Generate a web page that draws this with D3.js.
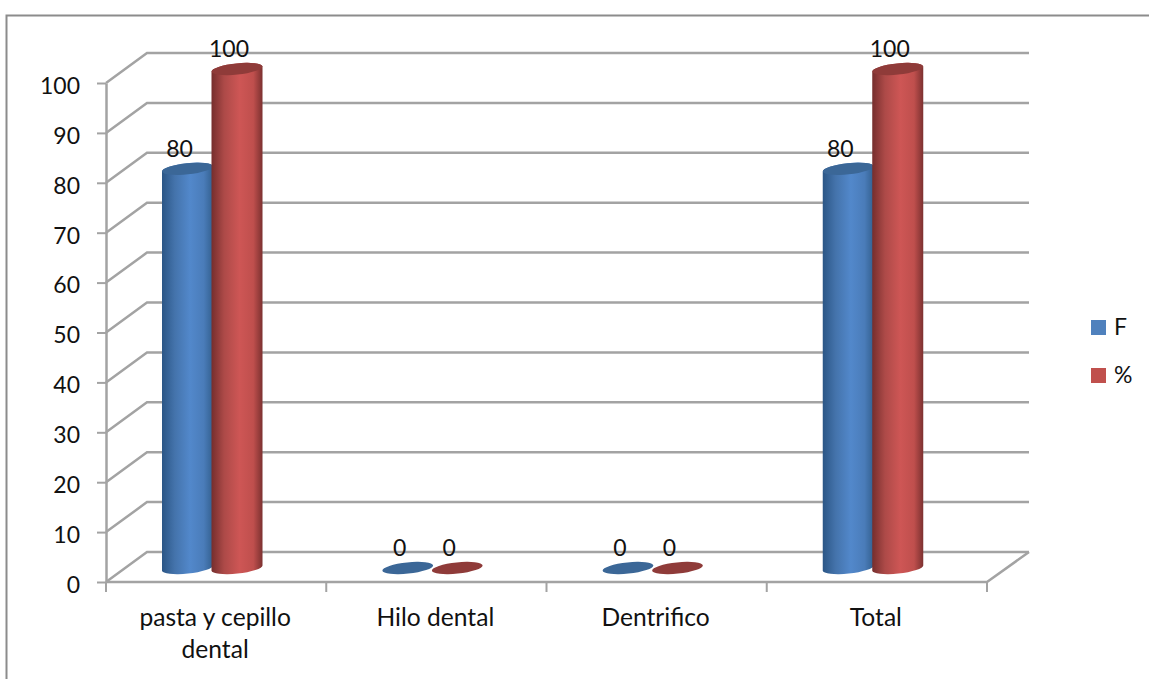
<!DOCTYPE html>
<html>
<head>
<meta charset="utf-8">
<script src="https://cdn.jsdelivr.net/npm/d3@7"></script>
<style>
  html, body { margin: 0; padding: 0; background: #fff; }
  svg { display: block; }
  text { font-family: Lato, "Open Sans", sans-serif; fill: #111; }
</style>
</head>
<body>
<div id="chart"></div>
<script>
var svgWidth = 1149;
var svgHeight = 679;

var categories = [["pasta y cepillo", "dental"], ["Hilo dental"], ["Dentrifico"], ["Total"]];
var seriesNames = ["F", "%"];
var seriesF = [80, 0, 0, 80];
var seriesPct = [100, 0, 0, 100];
var yTicks = [0, 10, 20, 30, 40, 50, 60, 70, 80, 90, 100];

var colors = {
  "F": { side: ["#2b5686", "#4473ab", "#5288cb", "#4a7cb9", "#33608f"], top: "#3b6797", key: "#4f81bd" },
  "%": { side: ["#762e2d", "#ad4a48", "#ce5655", "#bf4f4d", "#7c3130"], top: "#8f3b39", key: "#c0504d" }
};

var left = 106, right = 987, floorY = 582, topY = 83;
var wallDx = 41, wallDy = -30;   // depth of the box
var barDy = -14;                 // cylinders stand half way into the box
var barOffset = 56, barWidth = 50;
var gridColor = "#a3a3a3";

var svg = d3.select("#chart")
  .append("svg")
  .attr("width", svgWidth)
  .attr("height", svgHeight);

var x = d3.scaleBand()
  .domain(d3.range(categories.length))
  .range([left, right]);

var y = d3.scaleLinear()
  .domain([0, 100])
  .range([floorY, topY]);

// outer frame, only top and left edges show
svg.append("path")
  .attr("d", "M6.5,679V15.5H1149")
  .attr("fill", "none")
  .attr("stroke", "#8c8c8c")
  .attr("stroke-width", 2);

var defs = svg.append("defs");
seriesNames.forEach(function(name, s) {
  var grad = defs.append("linearGradient")
    .attr("id", "cyl" + s)
    .attr("x1", 0).attr("x2", 1).attr("y1", 0).attr("y2", 0);
  [0, 0.25, 0.55, 0.82, 1].forEach(function(o, i) {
    grad.append("stop").attr("offset", o).attr("stop-color", colors[name].side[i]);
  });
});

// back wall and side wall grid
var grid = svg.append("g")
  .attr("fill", "none")
  .attr("stroke", gridColor)
  .attr("stroke-width", 2.5);

grid.selectAll(".back")
  .data(yTicks)
  .enter()
  .append("path")
  .attr("d", function(d) {
    return "M" + left + "," + y(d) + "L" + (left + wallDx) + "," + (y(d) + wallDy) + "H" + (right + wallDx + 1);
  });

// floor
grid.append("path")
  .attr("d", "M" + left + "," + floorY + "H" + right + "L" + (right + wallDx + 1) + "," + (floorY + wallDy));

// y axis
var yAxis = d3.axisLeft(y)
  .tickValues(yTicks)
  .tickSize(9)
  .tickPadding(17)
  .tickSizeOuter(0);

var yG = svg.append("g")
  .attr("transform", "translate(" + left + ",0)")
  .call(yAxis);
yG.select(".domain").attr("stroke", gridColor).attr("stroke-width", 2.5);
yG.selectAll(".tick line").attr("stroke", gridColor).attr("stroke-width", 2);
yG.selectAll(".tick text")
  .attr("font-size", 23)
  .attr("dy", "0.45em")
  .style("font-family", "Lato, sans-serif")
  .attr("fill", "#111");

// x axis tick marks sit on the band edges
svg.append("g")
  .selectAll("line")
  .data(d3.range(categories.length + 1))
  .enter()
  .append("line")
  .attr("x1", function(d) { return left + d * x.step(); })
  .attr("x2", function(d) { return left + d * x.step(); })
  .attr("y1", floorY)
  .attr("y2", floorY + 10)
  .attr("stroke", gridColor)
  .attr("stroke-width", 2);

// category labels, one text line per row
var catLabels = svg.append("g")
  .selectAll("text")
  .data(categories)
  .enter()
  .append("text")
  .attr("text-anchor", "middle")
  .attr("font-size", 24.6);

catLabels.each(function(lines, i) {
  d3.select(this).selectAll("tspan")
    .data(lines)
    .enter()
    .append("tspan")
    .attr("x", x(i) + x.bandwidth() / 2 - 1)
    .attr("y", function(d, j) { return 626 + j * 32; })
    .text(function(d) { return d; });
});

// cylinder outline; ends are ellipses tilted by the chart's perspective
var rx = barWidth / 2 + 0.5, ry = 5.6, tilt = -6;
var endDy = Math.sin(tilt * Math.PI / 180) * rx;

function cylinderPath(x0, value) {
  var x1 = x0 + barWidth + 1;
  var yb = y(0) + barDy, yt = y(value) + barDy;
  return "M" + x0 + "," + (yt - endDy) +
    "L" + x0 + "," + (yb - endDy) +
    "A" + rx + "," + ry + "," + tilt + ",0,0," + x1 + "," + (yb + endDy) +
    "L" + x1 + "," + (yt + endDy) +
    "A" + rx + "," + ry + "," + tilt + ",0,0," + x0 + "," + (yt - endDy) + "Z";
}

var seriesValues = [seriesF, seriesPct];

categories.forEach(function(c, i) {
  seriesValues.forEach(function(values, s) {
    var name = seriesNames[s];
    var x0 = x(i) + barOffset + s * (barWidth - 0.5);
    var v = values[i];

    if (v > 0) {
      svg.append("path")
        .attr("d", cylinderPath(x0, v))
        .attr("fill", "url(#cyl" + s + ")");
    }

    svg.append("ellipse")
      .attr("cx", x0 + rx)
      .attr("cy", y(v) + barDy)
      .attr("rx", rx)
      .attr("ry", ry)
      .attr("transform", "rotate(" + tilt + "," + (x0 + rx) + "," + (y(v) + barDy) + ")")
      .attr("fill", colors[name].top);

    svg.append("text")
      .attr("x", x0 + rx - 8)
      .attr("y", y(v) + barDy - 12)
      .attr("text-anchor", "middle")
      .attr("font-size", 23)
      .text(v);
  });
});

// legend
var legend = svg.append("g")
  .selectAll("g")
  .data(seriesNames)
  .enter()
  .append("g")
  .attr("transform", function(d, i) { return "translate(1091," + (320 + i * 48) + ")"; });

legend.append("rect")
  .attr("width", 15)
  .attr("height", 15)
  .attr("fill", function(d) { return colors[d].key; });

legend.append("text")
  .attr("x", 23)
  .attr("y", 15)
  .attr("font-size", 23)
  .text(function(d) { return d; });
</script>
</body>
</html>
